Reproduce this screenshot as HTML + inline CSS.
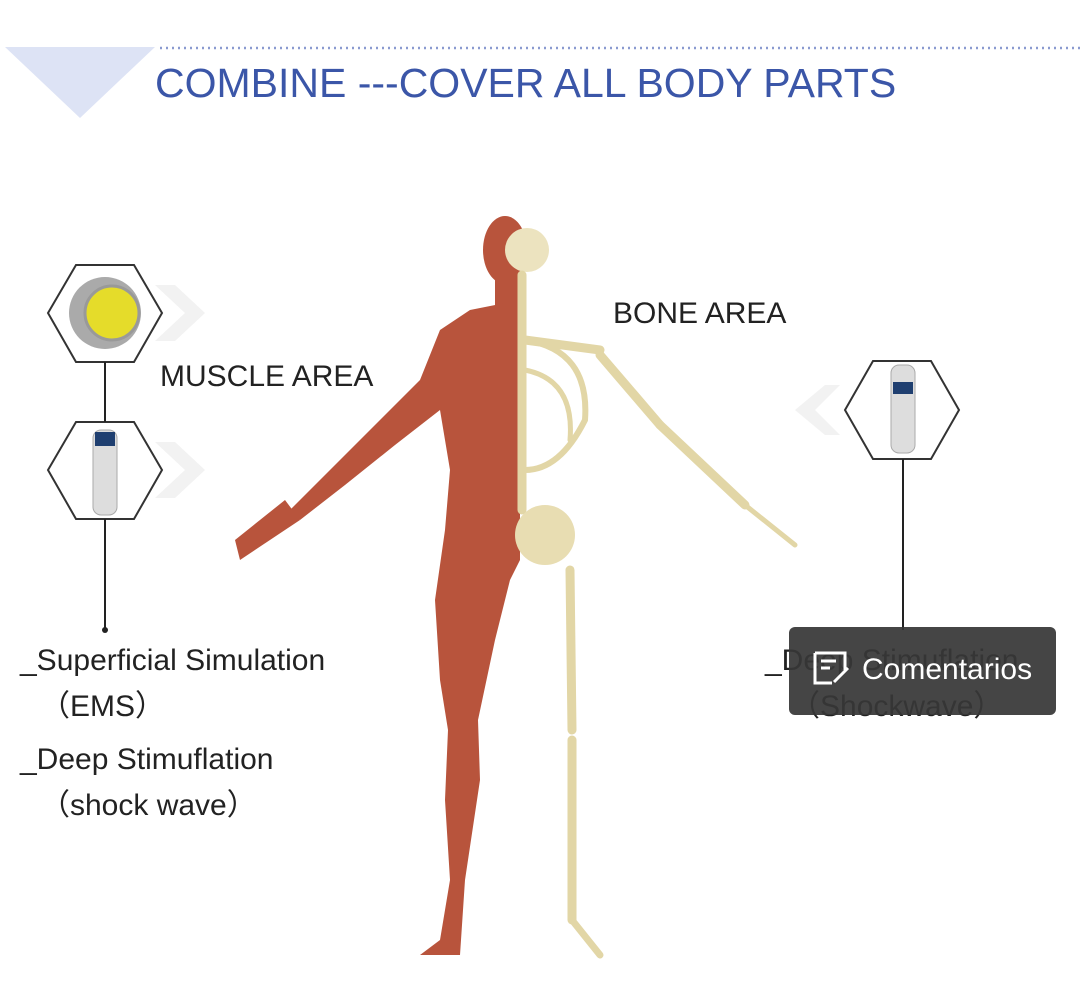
<!DOCTYPE html>
<html><head><meta charset="utf-8"><style>
body{margin:0;width:1080px;height:984px;background:#fff;position:relative;overflow:hidden;font-family:"Liberation Sans",sans-serif}
.t{position:absolute;color:#222;white-space:nowrap;font-size:30px}
</style></head><body>
<svg width="1080" height="984" style="position:absolute;left:0;top:0">
<polygon points="5,47 155,47 80,118" fill="#dde3f5"/>
<line x1="160" y1="48" x2="1080" y2="48" stroke="#8a9ad0" stroke-width="2.5" stroke-dasharray="2,4"/>
<text x="155" y="97" font-family="Liberation Sans" font-size="41" fill="#3b56a8">COMBINE ---COVER ALL BODY PARTS</text>
<polygon points="48,313 76,265 134,265 162,313 134,362 76,362" fill="#fff" stroke="#333" stroke-width="2"/>
<circle cx="105" cy="313" r="36" fill="#aaa"/><circle cx="112" cy="313" r="27" fill="#e5dc2a" stroke="#999" stroke-width="3"/>
<polygon points="48,470 76,422 134,422 162,470 134,519 76,519" fill="#fff" stroke="#333" stroke-width="2"/>
<rect x="93" y="430" width="24" height="85" rx="8" fill="#ddd" stroke="#aaa"/><rect x="95" y="432" width="20" height="14" fill="#1f3f70"/>
<polyline points="155,285 185,313 155,341 175,341 205,313 175,285" fill="#f2f2f2"/>
<polyline points="155,442 185,470 155,498 175,498 205,470 175,442" fill="#f2f2f2"/>
<line x1="105" y1="362" x2="105" y2="422" stroke="#222" stroke-width="2"/>
<line x1="105" y1="519" x2="105" y2="630" stroke="#222" stroke-width="2"/><circle cx="105" cy="630" r="3" fill="#222"/>
<polygon points="845,410 873,361 931,361 959,410 931,459 873,459" fill="#fff" stroke="#333" stroke-width="2"/>
<rect x="891" y="365" width="24" height="88" rx="8" fill="#ddd" stroke="#aaa"/><rect x="893" y="382" width="20" height="12" fill="#1f3f70"/>
<polyline points="840,385 815,410 840,435 825,435 795,410 825,385" fill="#f2f2f2"/>
<line x1="903" y1="459" x2="903" y2="630" stroke="#222" stroke-width="2"/>
<g fill="#b8543c">
<ellipse cx="505" cy="250" rx="22" ry="34"/>
<rect x="495" y="275" width="25" height="30"/>
<path d="M520,300 L470,310 L440,330 L420,380 L380,420 L330,470 L290,510 L300,520 L345,485 L395,445 L440,410 L450,470 L445,530 L435,600 L440,680 L448,730 L445,800 L450,880 L440,940 L420,955 L460,955 L465,880 L480,780 L478,720 L495,640 L510,580 L520,560 Z"/>
<path d="M285,500 L235,540 L240,560 L300,520 Z"/>
</g>
<g fill="none" stroke="#e2d6a6" stroke-width="9" stroke-linecap="round">
<circle cx="527" cy="250" r="22" fill="#ece3bf" stroke="none"/>
<line x1="522" y1="275" x2="522" y2="510"/>
<path d="M525,340 Q590,350 585,420 Q560,470 525,470" stroke-width="6"/>
<path d="M525,370 Q575,380 570,440" stroke-width="5"/>
<line x1="525" y1="340" x2="600" y2="350"/>
<line x1="600" y1="355" x2="660" y2="425"/>
<line x1="660" y1="425" x2="745" y2="505"/>
<line x1="745" y1="505" x2="795" y2="545" stroke-width="5"/>
<ellipse cx="545" cy="535" rx="30" ry="30" fill="#e8ddb2" stroke="none"/>
<line x1="570" y1="570" x2="572" y2="730"/>
<line x1="572" y1="740" x2="572" y2="920"/>
<line x1="572" y1="920" x2="600" y2="955" stroke-width="7"/>
</g>
</svg>
<div class="t" style="left:160px;top:360px">MUSCLE AREA</div>
<div class="t" style="left:613px;top:297px">BONE AREA</div>
<div class="t" style="left:20px;top:644px">_Superficial Simulation</div>
<div class="t" style="left:40px;top:681px">（EMS）</div>
<div class="t" style="left:20px;top:743px">_Deep Stimuflation</div>
<div class="t" style="left:40px;top:780px">（shock wave）</div>
<div class="t" style="left:765px;top:644px">_Deep Stimuflation</div>
<div class="t" style="left:790px;top:681px">（Shockwave）</div>
<div style="position:absolute;left:789px;top:627px;width:267px;height:88px;background:rgba(55,55,55,0.93);border-radius:6px"></div>
<svg width="40" height="40" style="position:absolute;left:812px;top:650px"><path d="M3,3 H33 V20 M3,3 V33 H20" fill="none" stroke="#fff" stroke-width="3"/><line x1="9" y1="11" x2="24" y2="11" stroke="#fff" stroke-width="3"/><line x1="9" y1="18" x2="18" y2="18" stroke="#fff" stroke-width="3"/><line x1="22" y1="32" x2="36" y2="18" stroke="#fff" stroke-width="3"/></svg>
<div class="t" style="left:862px;top:653px;font-size:30px;color:#fff">Comentarios</div>
</body></html>
